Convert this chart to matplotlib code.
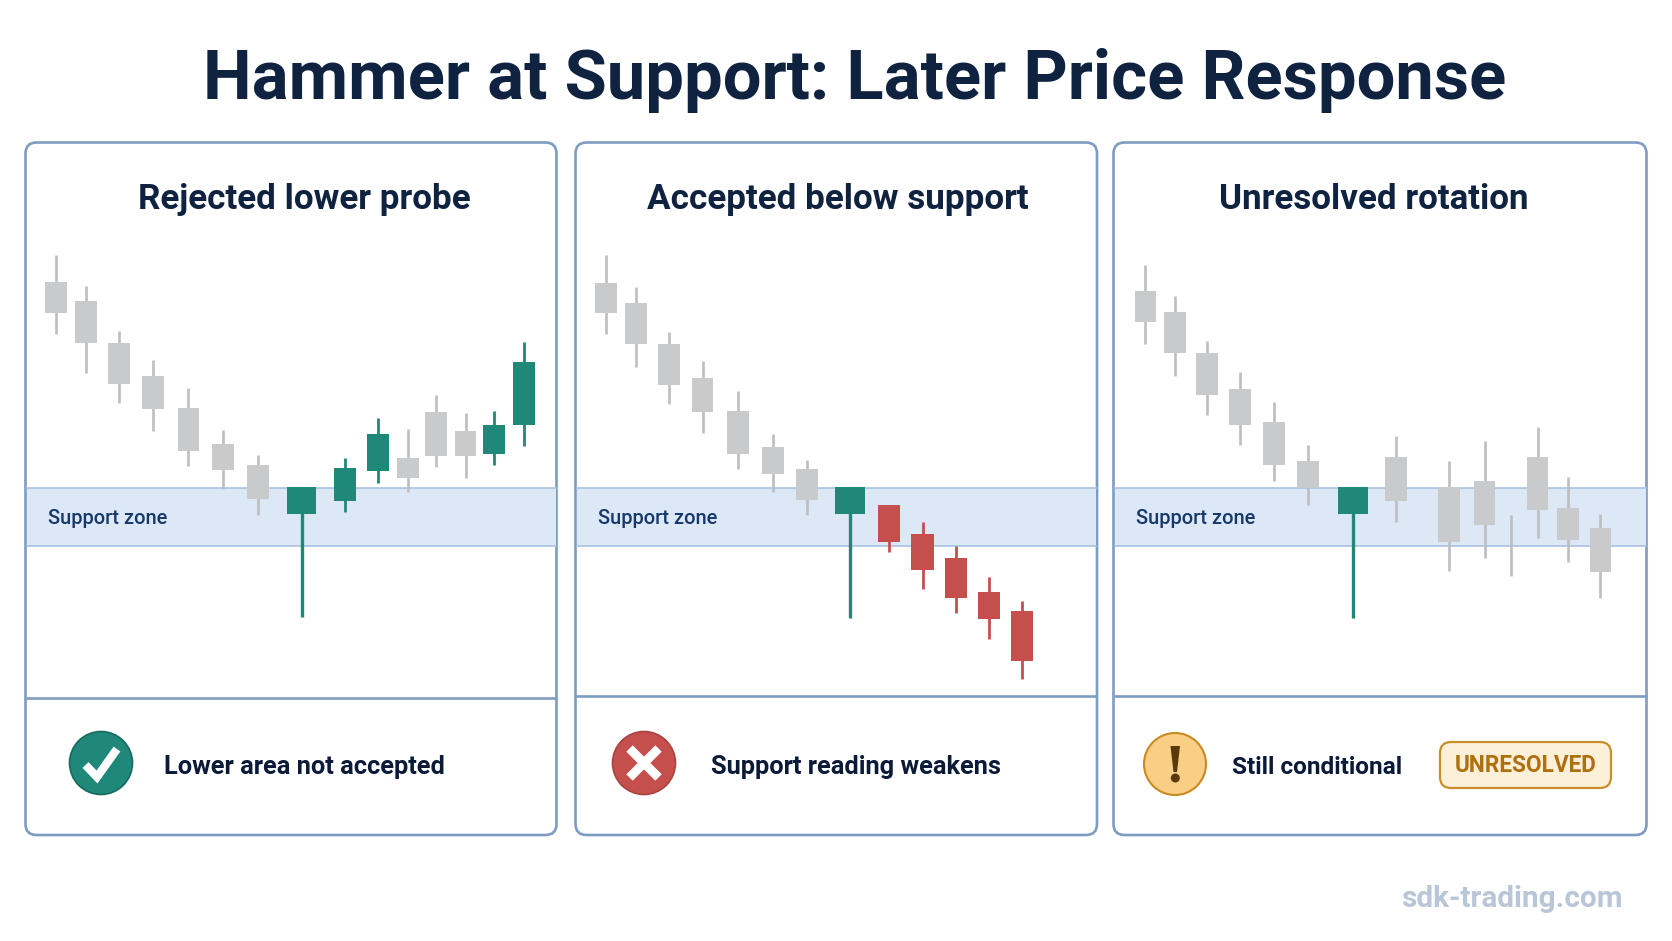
import matplotlib
matplotlib.use("Agg")
import matplotlib.pyplot as plt
from matplotlib.patches import FancyBboxPatch, Circle, Polygon

W, H = 1672, 941
FONT = "Roboto"

NAVY = "#0f2340"
INK = "#0c1a3a"
ZONE_BLUE = "#17386b"
BORDER = "#7f9cc2"
GREEN = "#1f8878"
RED = "#c44f4c"
GRAY = "#c9cacc"
GRAY_WICK = "#bcbec1"

SUPPORT_TOP = 453.5
SUPPORT_BOTTOM = 395.5

# panel 1: rejected lower probe
p1_x = [55.8, 85.9, 118.9, 152.9, 188.4, 223.1, 258.2, 301.7, 344.8, 377.8, 407.9, 436.0, 465.5, 494.2, 523.7]
p1_high = [686, 655, 610.3, 581, 552.7, 511, 486, 453.7, 482.7, 523.3, 512, 546.3, 528, 530.3, 598.7]
p1_low = [607, 568.3, 538.3, 510.3, 475, 452.3, 426.3, 323.7, 429.3, 458.3, 448.7, 474, 462.7, 476.3, 495]
p1_top = [658.7, 639.7, 598, 564.7, 533, 497.3, 476.3, 453.7, 472.7, 506.7, 483, 529.3, 509.7, 516, 579]
p1_bottom = [628.3, 597.7, 557, 531.7, 490, 471, 441.7, 426.7, 440.3, 470, 462.7, 485, 485, 487, 516]
p1_kind = ["g", "g", "g", "g", "g", "g", "g", "h", "u", "u", "g", "g", "g", "u", "u"]

# panel 2: accepted below support
p2_x = [606.2, 636.3, 668.7, 702.5, 738.0, 772.8, 807.3, 849.9, 888.8, 922.6, 955.7, 989.2, 1022.3]
p2_high = [686, 653.7, 609.3, 579.7, 550.3, 507, 481, 454, 435.7, 418.7, 395, 363.7, 340.3]
p2_low = [606.7, 573.7, 537, 507.7, 472.3, 449, 426, 322.7, 389.3, 352.3, 328.3, 302, 261.7]
p2_top = [658.3, 638.3, 596.7, 562.7, 530.3, 493.7, 472, 454, 435.7, 406.7, 383, 349.3, 329.7]
p2_bottom = [628.3, 596.7, 556, 528.7, 487, 467.3, 441.3, 426.7, 398.7, 371.3, 343, 322.3, 280]
p2_kind = ["g", "g", "g", "g", "g", "g", "g", "h", "d", "d", "d", "d", "d"]

# panel 3: unresolved rotation
p3_x = [1145.4, 1175.2, 1207.2, 1240.1, 1274.2, 1308.2, 1353.1, 1395.9, 1449.2, 1484.6, 1511.3, 1537.6, 1568.1, 1600.4]
p3_high = [676, 645, 600, 568.7, 539, 496.3, 454, 504.7, 480.3, 500.3, 425.7, 513.7, 464.3, 426.7]
p3_low = [597, 565.3, 525.7, 496.3, 460.3, 436.3, 322.7, 419, 370.3, 383, 365, 402.7, 379.3, 343.3]
p3_top = [649.7, 629.3, 588, 552, 519.3, 480, 454, 484.3, 454, 459.7, 395, 484.3, 433, 412.7]
p3_bottom = [619, 588.3, 546.3, 516.3, 476, 452.7, 426.7, 439.7, 399, 416, 395, 431.3, 401.3, 369.3]
p3_kind = ["g", "g", "g", "g", "g", "g", "h", "g", "g", "g", "g", "g", "g", "g"]

panel_titles = ["Rejected lower probe", "Accepted below support", "Unresolved rotation"]
status_texts = ["Lower area not accepted", "Support reading weakens", "Still conditional"]


def draw_candles(ax, x, high, low, top, bottom, kind):
    for i in range(len(x)):
        k = kind[i]
        if k == "g":
            col, wick_col, w, lw = GRAY, GRAY_WICK, 21.7, 1.9
        elif k == "h":
            col, wick_col, w, lw = GREEN, GREEN, 29.5, 2.4
        elif k == "u":
            col, wick_col, w, lw = GREEN, GREEN, 22, 2.0
        else:
            col, wick_col, w, lw = RED, RED, 22.3, 2.0
        ax.vlines(x[i], low[i], high[i], color=wick_col, linewidth=lw, zorder=4)
        if top[i] > bottom[i]:
            ax.bar(x[i], top[i] - bottom[i], width=w, bottom=bottom[i], color=col, zorder=5)


def draw_panel(ax, left, right, divider, title, title_x):
    box = FancyBboxPatch((left, H - 835), right - left, 835 - 142.5,
                         boxstyle="round,pad=0,rounding_size=11",
                         facecolor="white", edgecolor=BORDER, linewidth=1.9, zorder=1)
    ax.add_patch(box)
    ax.plot([left, right], [H - divider, H - divider], color=BORDER, linewidth=1.9,
            solid_capstyle="butt", zorder=2)
    ax.fill_between([left + 1, right - 1], SUPPORT_BOTTOM, SUPPORT_TOP, color="#dde8f6", linewidth=0, zorder=2)
    for level in (SUPPORT_BOTTOM, SUPPORT_TOP):
        ax.plot([left + 1, right - 1], [level, level], color="#a9c2e2", linewidth=1.2, zorder=3)
    ax.text(title_x, H - 199.5, title, ha="center", va="center", fontsize=25.2,
            fontweight="bold", color=NAVY, family=FONT, zorder=6)
    ax.text(left + 22, H - 518, "Support zone", ha="left", va="center", fontsize=14.4,
            fontweight="medium", color=ZONE_BLUE, family=FONT, zorder=6)


fig = plt.figure(figsize=(W / 100, H / 100), dpi=100, facecolor="white")
ax = fig.add_axes([0, 0, 1, 1])
ax.set_xlim(0, W)
ax.set_ylim(0, H)
ax.axis("off")

ax.text(855, H - 80, "Hammer at Support: Later Price Response", ha="center", va="center",
        fontsize=49.5, fontweight="bold", color=NAVY, family=FONT)

draw_panel(ax, 25.5, 556.5, 698, panel_titles[0], 304)
draw_panel(ax, 575.5, 1097, 696, panel_titles[1], 837.5)
draw_panel(ax, 1113.5, 1646.5, 696, panel_titles[2], 1374)

draw_candles(ax, p1_x, p1_high, p1_low, p1_top, p1_bottom, p1_kind)
draw_candles(ax, p2_x, p2_high, p2_low, p2_top, p2_bottom, p2_kind)
draw_candles(ax, p3_x, p3_high, p3_low, p3_top, p3_bottom, p3_kind)

# status row: check icon
cy = H - 763
ax.add_patch(Circle((101, cy), 31.5, facecolor=GREEN, edgecolor="#176b60", linewidth=1.2, zorder=4))
ax.plot([85.5, 97, 117], [cy - 2, cy - 14, cy + 14], color="white", linewidth=6, zorder=5,
        solid_capstyle="butt", solid_joinstyle="miter")
ax.text(164, cy - 4, status_texts[0], ha="left", va="center", fontsize=18.3,
        fontweight="bold", color=INK, family=FONT, zorder=6)

# cross icon
ax.add_patch(Circle((644, cy), 31.5, facecolor=RED, edgecolor="#a94442", linewidth=1.2, zorder=4))
ax.plot([629.5, 658.5], [cy - 14.5, cy + 14.5], color="white", linewidth=6.5, zorder=5, solid_capstyle="butt")
ax.plot([629.5, 658.5], [cy + 14.5, cy - 14.5], color="white", linewidth=6.5, zorder=5, solid_capstyle="butt")
ax.text(711, cy - 4, status_texts[1], ha="left", va="center", fontsize=18.3,
        fontweight="bold", color=INK, family=FONT, zorder=6)

# warning icon and badge
cy3 = H - 764
ax.add_patch(Circle((1175, cy3), 31, facecolor="#f8cf85", edgecolor="#c98a22", linewidth=1.5, zorder=4))
ax.add_patch(Polygon([(1170.5, cy3 + 18), (1180, cy3 + 18), (1177, cy3 - 8), (1173.5, cy3 - 8)],
                     closed=True, facecolor="#5a3a0a", edgecolor="none", zorder=5))
ax.add_patch(Circle((1175.3, cy3 - 14), 4.5, facecolor="#5a3a0a", edgecolor="none", zorder=5))
ax.text(1232, cy3 - 3, status_texts[2], ha="left", va="center", fontsize=17.6,
        fontweight="bold", color=INK, family=FONT, zorder=6)

badge = FancyBboxPatch((1440, H - 788), 171, 46, boxstyle="round,pad=0,rounding_size=11",
                       facecolor="#fdf0d8", edgecolor="#c98f2a", linewidth=1.6, zorder=4)
ax.add_patch(badge)
ax.text(1526, H - 766, "UNRESOLVED", ha="center", va="center", fontsize=16.3,
        fontweight="bold", color="#b0700f", family=FONT, zorder=6)

ax.text(1622.5, H - 899, "sdk-trading.com", ha="right", va="center", fontsize=21.4,
        fontweight="bold", color="#b8c6d8", family=FONT)

fig.savefig("out.png", dpi=100)
plt.close(fig)
